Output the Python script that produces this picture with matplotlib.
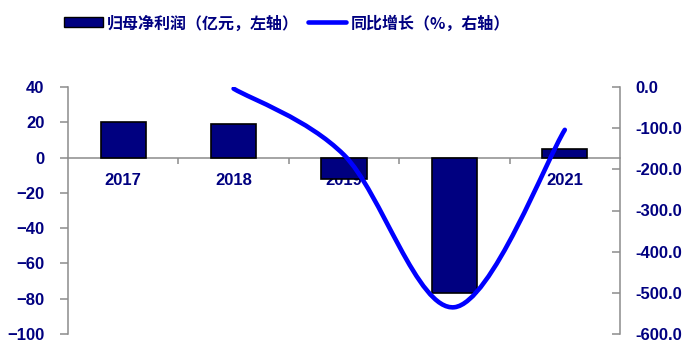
import matplotlib
matplotlib.use("Agg")
import matplotlib.pyplot as plt
import matplotlib.transforms as mtrans
from matplotlib.path import Path
from matplotlib.patches import PathPatch, Rectangle
from matplotlib.lines import Line2D
from matplotlib.ticker import FormatStrFormatter

# Data
years = ["2017", "2018", "2019", "2020", "2021"]
net_profit = [20.2, 19.0, -12.0, -77.0, 4.9]          # 亿元, left axis
growth_years = ["2018", "2019", "2020", "2021"]
growth_pct = [-4.0, -165.0, -535.0, -104.0]           # %, right axis

left_ticks = list(range(-100, 41, 20))
right_ticks = list(range(-600, 1, 100))

NAVY = "#000080"
BLUE = "#0000FF"
GRAY = "#8c8c8c"
W, H = 683, 340

plt.rcParams["font.family"] = ["Liberation Sans", "DejaVu Sans"]
cjk = ["Noto Sans CJK SC", "DejaVu Sans"]

fig = plt.figure(figsize=(W / 100, H / 100), dpi=100)
ax = fig.add_axes([68 / W, 6 / H, 552 / W, 247 / H])

x = list(range(len(years)))
ax.bar(x, net_profit, width=0.41, color=NAVY, edgecolor="black",
       linewidth=1.2, zorder=3)
ax.set_xlim(-0.5, len(years) - 0.5)
ax.set_ylim(-100, 40)
ax.set_yticks(left_ticks)

for s in ("top", "right"):
    ax.spines[s].set_visible(False)
ax.spines["left"].set_color(GRAY)
ax.spines["left"].set_linewidth(1.1)
ax.spines["bottom"].set_position(("data", 0))
ax.spines["bottom"].set_color(GRAY)
ax.spines["bottom"].set_linewidth(1.1)
ax.spines["bottom"].set_zorder(2.5)

# category separators on the zero line
ax.set_xticks([i + 0.5 for i in range(len(years) - 1)])
ax.set_xticklabels([])
ax.tick_params(axis="x", direction="out", length=4, width=1.1, color=GRAY)
ax.tick_params(axis="y", direction="out", length=6, width=1.1, color=GRAY,
               pad=11, labelsize=12, labelcolor=NAVY)
for lab in ax.get_yticklabels():
    lab.set_fontweight("bold")

# category labels sit just under the zero line, behind the bars
offset = mtrans.ScaledTranslation(0, -22.5 / 100, fig.dpi_scale_trans)
for i, name in enumerate(years):
    ax.text(i, 0, name, transform=ax.transData + offset, ha="center",
            va="center", fontsize=12, fontweight="bold", color=NAVY,
            zorder=2)

# right axis: growth rate drawn as a smoothed curve
ax2 = ax.twinx()
ax2.set_ylim(-600, 0)
ax2.set_yticks(right_ticks)
ax2.yaxis.set_major_formatter(FormatStrFormatter("%.1f"))
for s in ("top", "left", "bottom"):
    ax2.spines[s].set_visible(False)
ax2.spines["right"].set_color(GRAY)
ax2.spines["right"].set_linewidth(1.1)
ax2.tick_params(axis="y", direction="in", length=6, width=1.1, color=GRAY,
                pad=11, labelsize=12, labelcolor=NAVY)
for lab in ax2.get_yticklabels():
    lab.set_fontweight("bold")


def smooth_path(xs, ys, k=1 / 6):
    pts = list(zip(xs, ys))
    n = len(pts)
    verts = [pts[0]]
    codes = [Path.MOVETO]
    for i in range(n - 1):
        p0 = pts[max(i - 1, 0)]
        p1 = pts[i]
        p2 = pts[i + 1]
        p3 = pts[min(i + 2, n - 1)]
        c1 = (p1[0] + (p2[0] - p0[0]) * k, p1[1] + (p2[1] - p0[1]) * k)
        c2 = (p2[0] - (p3[0] - p1[0]) * k, p2[1] - (p3[1] - p1[1]) * k)
        verts += [c1, c2, p2]
        codes += [Path.CURVE4] * 3
    return Path(verts, codes)


gx = [years.index(y) for y in growth_years]
ax2.add_patch(PathPatch(smooth_path(gx, growth_pct), facecolor="none",
                        edgecolor=BLUE, linewidth=3.3, capstyle="round",
                        joinstyle="round", zorder=4))

# legend row
def fx(px):
    return px / W


def fy(py):
    return 1 - py / H


fig.patches.append(Rectangle((fx(64), fy(27)), 39 / W, 10 / H,
                             transform=fig.transFigure, facecolor=NAVY,
                             edgecolor="black", linewidth=1.0))
fig.text(fx(107), fy(23.5), "归母净利润（亿元，左轴）", family=cjk,
         fontsize=11.5, fontweight="bold", color=NAVY, ha="left", va="center")
fig.lines.append(Line2D([fx(308), fx(346)], [fy(22), fy(22)],
                        transform=fig.transFigure, color=BLUE, linewidth=3.3,
                        solid_capstyle="round"))
fig.text(fx(351), fy(23.5), "同比增长（%，右轴）", family=cjk,
         fontsize=11.5, fontweight="bold", color=NAVY, ha="left", va="center")

fig.savefig("out.png", dpi=100)
